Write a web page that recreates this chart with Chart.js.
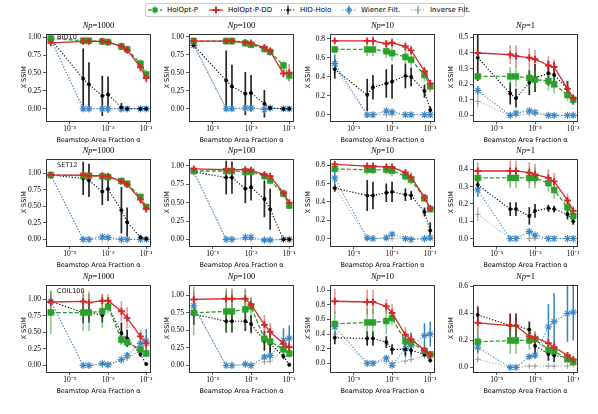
<!DOCTYPE html>
<html>
<head>
<meta charset="utf-8">
<script src="https://cdn.jsdelivr.net/npm/chart.js@4.4.1/dist/chart.umd.min.js"></script>
<style>
  body { margin: 0; background: #fff; }
  #fig { position: relative; width: 598px; height: 414px; overflow: hidden; }
  #fig canvas { position: absolute; }
  .ttl { position: absolute; font: 8.5px "Liberation Serif", serif; transform: translateX(-50%); white-space: nowrap; color: #000; }
  .ann { position: absolute; font: 6.5px "DejaVu Sans", sans-serif; color: #111; }
  #legend { position: absolute; left: 145px; top: 3px; width: 320px; height: 14px; border: 1px solid #ccc; border-radius: 2px; box-sizing: border-box; }
  .lg { position: absolute; top: 1px; font: 7px "DejaVu Sans", sans-serif; line-height: 11px; white-space: nowrap; }
  .lg svg { position: absolute; top: 0; }
</style>
</head>
<body>
<div id="fig"><div id="legend"></div></div>
<script>
// beamstop area fraction (x) and axis labels
const alpha = [1e-6, 5e-5, 1e-4, 5e-4, 1e-3, 5e-3, 1e-2, 5e-2, 1e-1];
const xTickValues = [1e-5, 1e-3, 1e-1];
const xTickLabels = ["10⁻⁵", "10⁻³", "10⁻¹"];
const seriesNames = ["HolOpt-P", "HolOpt-P-DD", "HIO-Holo", "Wiener Filt.", "Inverse Filt."];
const datasetNames = ["BIO10", "SET12", "COIL100"];
const photonCounts = ["1000", "100", "10", "1"];

// rows of each array: HolOpt-P, HolOpt-P-DD, HIO-Holo, Wiener, Inverse
const bio_1000_mean = [
  [0.98, 0.95, 0.95, 0.94, 0.93, 0.87, 0.83, 0.63, 0.48],
  [0.92, 0.94, 0.94, 0.94, 0.93, 0.87, 0.82, 0.58, 0.43],
  [0.97, 0.42, 0.34, 0.18, 0.20, 0.02, 0.00, 0.00, 0.00],
  [0.97, 0.00, 0.00, 0.00, 0.00, 0.00, 0.00, 0.00, 0.00],
  [0.97, 0.00, 0.00, 0.00, 0.00, 0.00, 0.00, 0.00, 0.00]];
const bio_1000_err = [
  [0.02, 0.03, 0.03, 0.03, 0.04, 0.04, 0.05, 0.06, 0.06],
  [0.04, 0.04, 0.04, 0.04, 0.04, 0.05, 0.05, 0.07, 0.07],
  [0.01, 0.42, 0.31, 0.28, 0.25, 0.06, 0.02, 0.01, 0.01],
  [0.01, 0.01, 0.01, 0.01, 0.01, 0.01, 0.01, 0.01, 0.01],
  [0.01, 0.01, 0.01, 0.01, 0.01, 0.01, 0.01, 0.01, 0.01]];
const bio_100_mean = [
  [0.94, 0.94, 0.94, 0.91, 0.89, 0.83, 0.79, 0.60, 0.46],
  [0.94, 0.94, 0.94, 0.92, 0.91, 0.85, 0.80, 0.49, 0.50],
  [0.88, 0.39, 0.31, 0.21, 0.22, 0.07, 0.01, 0.00, 0.00],
  [0.88, 0.00, 0.00, 0.01, 0.01, -0.01, 0.01, 0.00, 0.00],
  [0.90, 0.00, 0.00, 0.00, 0.00, 0.00, 0.00, 0.00, 0.00]];
const bio_100_err = [
  [0.03, 0.03, 0.03, 0.04, 0.05, 0.05, 0.05, 0.06, 0.07],
  [0.03, 0.03, 0.03, 0.04, 0.05, 0.05, 0.06, 0.06, 0.12],
  [0.02, 0.42, 0.30, 0.30, 0.25, 0.19, 0.02, 0.01, 0.01],
  [0.02, 0.01, 0.01, 0.01, 0.01, 0.01, 0.01, 0.01, 0.01],
  [0.02, 0.01, 0.01, 0.01, 0.01, 0.01, 0.01, 0.01, 0.01]];
const bio_10_mean = [
  [0.69, 0.69, 0.69, 0.67, 0.65, 0.61, 0.58, 0.42, 0.30],
  [0.78, 0.78, 0.78, 0.75, 0.76, 0.72, 0.68, 0.46, 0.33],
  [0.48, 0.21, 0.29, 0.33, 0.35, 0.41, 0.40, 0.25, 0.05],
  [0.54, 0.00, 0.00, 0.04, 0.03, 0.00, 0.00, 0.00, 0.00],
  [0.49, 0.00, 0.00, 0.00, 0.00, 0.00, 0.00, 0.00, 0.00]];
const bio_10_err = [
  [0.04, 0.07, 0.07, 0.07, 0.08, 0.07, 0.07, 0.07, 0.06],
  [0.02, 0.03, 0.05, 0.04, 0.05, 0.05, 0.05, 0.05, 0.04],
  [0.10, 0.17, 0.13, 0.15, 0.18, 0.13, 0.10, 0.07, 0.04],
  [0.10, 0.01, 0.01, 0.02, 0.02, 0.01, 0.01, 0.01, 0.01],
  [0.05, 0.01, 0.01, 0.01, 0.01, 0.01, 0.01, 0.01, 0.01]];
const bio_1_mean = [
  [0.25, 0.25, 0.25, 0.24, 0.23, 0.22, 0.20, 0.13, 0.10],
  [0.40, 0.39, 0.38, 0.37, 0.36, 0.32, 0.31, 0.17, 0.11],
  [0.37, 0.14, 0.11, 0.21, 0.24, 0.27, 0.26, 0.17, 0.10],
  [0.16, 0.00, 0.015, 0.03, 0.02, 0.00, 0.00, 0.00, 0.00],
  [0.09, 0.00, 0.00, 0.01, 0.01, 0.00, 0.00, 0.00, 0.00]];
const bio_1_err = [
  [0.02, 0.06, 0.07, 0.07, 0.06, 0.06, 0.06, 0.04, 0.03],
  [0.01, 0.06, 0.07, 0.06, 0.06, 0.06, 0.05, 0.05, 0.03],
  [0.15, 0.07, 0.06, 0.08, 0.09, 0.08, 0.08, 0.05, 0.03],
  [0.03, 0.01, 0.01, 0.01, 0.01, 0.01, 0.01, 0.01, 0.01],
  [0.04, 0.01, 0.01, 0.01, 0.01, 0.01, 0.01, 0.01, 0.01]];

const set_1000_mean = [
  [0.97, 0.96, 0.96, 0.95, 0.94, 0.88, 0.84, 0.64, 0.49],
  [0.97, 0.97, 0.96, 0.96, 0.95, 0.88, 0.83, 0.60, 0.46],
  [0.97, 0.92, 0.89, 0.72, 0.76, 0.44, 0.26, 0.03, 0.01],
  [0.97, 0.00, 0.00, 0.04, 0.03, 0.00, 0.00, 0.00, 0.00],
  [0.97, 0.00, 0.00, 0.00, 0.00, 0.00, 0.00, 0.00, 0.00]];
const set_1000_err = [
  [0.02, 0.02, 0.03, 0.03, 0.04, 0.04, 0.04, 0.05, 0.05],
  [0.04, 0.04, 0.04, 0.04, 0.05, 0.05, 0.05, 0.06, 0.06],
  [0.01, 0.25, 0.25, 0.20, 0.18, 0.35, 0.22, 0.04, 0.02],
  [0.01, 0.01, 0.01, 0.02, 0.02, 0.01, 0.01, 0.01, 0.01],
  [0.01, 0.01, 0.01, 0.01, 0.01, 0.01, 0.01, 0.01, 0.01]];
const set_100_mean = [
  [0.93, 0.93, 0.93, 0.92, 0.92, 0.86, 0.80, 0.62, 0.46],
  [0.96, 0.95, 0.95, 0.95, 0.94, 0.88, 0.86, 0.63, 0.50],
  [0.92, 0.84, 0.84, 0.69, 0.71, 0.55, 0.41, 0.00, 0.00],
  [0.93, 0.00, 0.00, 0.03, 0.03, -0.01, -0.01, 0.00, 0.00],
  [0.90, 0.00, 0.00, 0.00, 0.00, 0.00, 0.00, 0.00, 0.00]];
const set_100_err = [
  [0.03, 0.03, 0.03, 0.04, 0.04, 0.05, 0.05, 0.05, 0.05],
  [0.04, 0.04, 0.04, 0.04, 0.04, 0.04, 0.04, 0.04, 0.04],
  [0.02, 0.23, 0.22, 0.20, 0.18, 0.25, 0.28, 0.01, 0.01],
  [0.03, 0.01, 0.01, 0.02, 0.02, 0.01, 0.01, 0.01, 0.01],
  [0.02, 0.01, 0.01, 0.01, 0.01, 0.01, 0.01, 0.01, 0.01]];
const set_10_mean = [
  [0.76, 0.75, 0.75, 0.75, 0.74, 0.68, 0.64, 0.44, 0.32],
  [0.81, 0.79, 0.79, 0.78, 0.78, 0.72, 0.67, 0.45, 0.33],
  [0.55, 0.47, 0.47, 0.50, 0.51, 0.48, 0.47, 0.29, 0.09],
  [0.66, 0.01, 0.00, 0.01, 0.05, 0.00, -0.01, 0.00, 0.01],
  [0.56, 0.00, 0.00, 0.00, 0.00, 0.00, 0.00, 0.00, 0.00]];
const set_10_err = [
  [0.03, 0.05, 0.05, 0.05, 0.06, 0.05, 0.05, 0.04, 0.03],
  [0.03, 0.04, 0.04, 0.04, 0.04, 0.04, 0.05, 0.04, 0.03],
  [0.04, 0.17, 0.15, 0.10, 0.11, 0.07, 0.05, 0.05, 0.09],
  [0.09, 0.01, 0.01, 0.02, 0.02, 0.01, 0.01, 0.01, 0.01],
  [0.03, 0.01, 0.01, 0.01, 0.01, 0.01, 0.01, 0.01, 0.01]];
const set_1_mean = [
  [0.35, 0.35, 0.35, 0.35, 0.35, 0.32, 0.28, 0.18, 0.13],
  [0.39, 0.39, 0.39, 0.38, 0.37, 0.35, 0.33, 0.22, 0.16],
  [0.31, 0.17, 0.17, 0.13, 0.16, 0.175, 0.17, 0.14, 0.10],
  [0.28, 0.00, 0.00, 0.04, 0.02, 0.00, 0.00, 0.00, 0.00],
  [0.14, 0.00, 0.00, 0.00, 0.00, 0.00, 0.00, 0.00, 0.00]];
const set_1_err = [
  [0.02, 0.06, 0.06, 0.06, 0.06, 0.05, 0.05, 0.04, 0.03],
  [0.05, 0.06, 0.06, 0.06, 0.06, 0.05, 0.05, 0.04, 0.03],
  [0.03, 0.04, 0.04, 0.05, 0.04, 0.02, 0.02, 0.03, 0.02],
  [0.04, 0.01, 0.01, 0.02, 0.01, 0.01, 0.01, 0.01, 0.01],
  [0.04, 0.01, 0.01, 0.02, 0.01, 0.01, 0.01, 0.01, 0.01]];

const coil_1000_mean = [
  [0.80, 0.80, 0.80, 0.82, 0.89, 0.39, 0.35, 0.24, 0.18],
  [0.96, 0.97, 0.95, 0.98, 0.98, 0.82, 0.72, 0.44, 0.33],
  [0.97, 0.80, 0.80, 0.76, 0.90, 0.49, 0.41, 0.17, 0.02],
  [0.97, 0.00, 0.00, 0.03, 0.01, 0.09, 0.15, 0.33, 0.37],
  [0.97, 0.00, 0.00, 0.01, 0.01, 0.07, 0.11, 0.22, 0.30]];
const coil_1000_err = [
  [0.33, 0.28, 0.28, 0.25, 0.10, 0.08, 0.07, 0.05, 0.05],
  [0.17, 0.15, 0.17, 0.10, 0.10, 0.15, 0.16, 0.10, 0.12],
  [0.01, 0.16, 0.15, 0.11, 0.06, 0.16, 0.13, 0.04, 0.02],
  [0.01, 0.01, 0.01, 0.02, 0.02, 0.03, 0.05, 0.17, 0.18],
  [0.01, 0.01, 0.01, 0.01, 0.01, 0.03, 0.04, 0.08, 0.10]];
const coil_100_mean = [
  [0.75, 0.77, 0.77, 0.80, 0.84, 0.38, 0.34, 0.23, 0.17],
  [0.94, 0.95, 0.95, 0.95, 0.87, 0.58, 0.48, 0.31, 0.26],
  [0.73, 0.63, 0.63, 0.63, 0.59, 0.35, 0.31, 0.13, 0.01],
  [0.85, 0.00, 0.00, 0.02, 0.00, 0.12, 0.14, 0.36, 0.39],
  [0.83, 0.00, 0.00, 0.01, 0.01, 0.05, 0.06, 0.22, 0.27]];
const coil_100_err = [
  [0.32, 0.30, 0.30, 0.27, 0.14, 0.08, 0.07, 0.07, 0.06],
  [0.18, 0.15, 0.15, 0.15, 0.09, 0.14, 0.13, 0.08, 0.07],
  [0.15, 0.16, 0.16, 0.14, 0.13, 0.14, 0.13, 0.04, 0.02],
  [0.06, 0.01, 0.01, 0.02, 0.01, 0.04, 0.06, 0.17, 0.18],
  [0.03, 0.01, 0.01, 0.01, 0.01, 0.02, 0.02, 0.06, 0.08]];
const coil_10_mean = [
  [0.54, 0.56, 0.56, 0.58, 0.62, 0.30, 0.28, 0.17, 0.12],
  [0.85, 0.84, 0.84, 0.78, 0.69, 0.39, 0.33, 0.18, 0.12],
  [0.35, 0.34, 0.34, 0.29, 0.19, 0.19, 0.18, 0.12, 0.04],
  [0.50, 0.00, 0.00, 0.07, -0.03, 0.20, 0.25, 0.38, 0.40],
  [0.40, 0.00, 0.00, 0.03, 0.00, 0.03, 0.05, 0.10, 0.12]];
const coil_10_err = [
  [0.17, 0.19, 0.19, 0.18, 0.10, 0.06, 0.06, 0.04, 0.04],
  [0.17, 0.17, 0.17, 0.10, 0.12, 0.11, 0.09, 0.04, 0.04],
  [0.09, 0.10, 0.10, 0.08, 0.07, 0.08, 0.06, 0.03, 0.03],
  [0.03, 0.01, 0.01, 0.03, 0.02, 0.12, 0.17, 0.17, 0.17],
  [0.03, 0.01, 0.01, 0.02, 0.01, 0.02, 0.02, 0.03, 0.03]];
const coil_1_mean = [
  [0.19, 0.20, 0.20, 0.20, 0.21, 0.13, 0.12, 0.06, 0.04],
  [0.33, 0.31, 0.31, 0.23, 0.22, 0.18, 0.15, 0.09, 0.06],
  [0.39, 0.31, 0.31, 0.28, 0.16, 0.10, 0.09, 0.07, 0.05],
  [0.15, 0.00, 0.00, 0.08, 0.09, 0.30, 0.34, 0.40, 0.41],
  [0.06, 0.00, 0.00, 0.01, 0.01, 0.01, 0.01, 0.01, 0.02]];
const coil_1_err = [
  [0.10, 0.10, 0.10, 0.07, 0.05, 0.04, 0.04, 0.02, 0.02],
  [0.13, 0.09, 0.09, 0.05, 0.05, 0.04, 0.04, 0.02, 0.02],
  [0.06, 0.09, 0.09, 0.06, 0.06, 0.05, 0.05, 0.02, 0.02],
  [0.04, 0.01, 0.01, 0.02, 0.02, 0.17, 0.21, 0.21, 0.21],
  [0.02, 0.01, 0.01, 0.01, 0.01, 0.01, 0.01, 0.01, 0.01]];

const panelMeans = [
  [bio_1000_mean, bio_100_mean, bio_10_mean, bio_1_mean],
  [set_1000_mean, set_100_mean, set_10_mean, set_1_mean],
  [coil_1000_mean, coil_100_mean, coil_10_mean, coil_1_mean]];
const panelErrs = [
  [bio_1000_err, bio_100_err, bio_10_err, bio_1_err],
  [set_1000_err, set_100_err, set_10_err, set_1_err],
  [coil_1000_err, coil_100_err, coil_10_err, coil_1_err]];

// y axis limits [min, max, step] per panel
const yLimits = [
  [[-0.17, 1.05, 0.25], [-0.17, 1.045, 0.25], [-0.066, 0.858, 0.2], [-0.036, 0.525, 0.1]],
  [[-0.10, 1.22, 0.25], [-0.09, 1.10, 0.25], [-0.08, 0.873, 0.2], [-0.043, 0.462, 0.1]],
  [[-0.10, 1.225, 0.25], [-0.093, 1.153, 0.25], [-0.12, 1.08, 0.2], [-0.034, 0.615, 0.2]]];

// layout of the grid
const colLeft = [46, 189, 330, 473];
const rowTop = [33, 158, 284];
const plotW = 105, plotH = 88;
const yAxisW = 26, xAxisH = 23, padTop = 6, padRight = 12;

const seriesStyle = [
  { color: "#2ca02c", dash: [4, 2], width: 1.3, point: "rect", radius: 4.2, pw: 0.5, err: "rgba(44,160,44,0.55)", errW: 1.6, order: 2 },
  { color: "#d62728", dash: [], width: 1.3, point: "cross", radius: 3.4, pw: 1.9, err: "rgba(214,39,40,0.5)", errW: 1.6, order: 1 },
  { color: "#000000", dash: [1.2, 1.8], width: 1.1, point: "circle", radius: 1.7, pw: 0.5, err: "rgba(0,0,0,0.85)", errW: 1.7, order: 3 },
  { color: "#3b87c8", dash: [1.2, 1.8], width: 1.1, point: "star", radius: 3.6, pw: 1.1, err: "rgba(31,119,180,0.9)", errW: 1.5, order: 4 },
  { color: "#9a9a9a", dash: [1.2, 1.8], width: 0.9, point: "cross", radius: 3, pw: 0.8, err: "rgba(150,150,150,0.8)", errW: 1.2, order: 5 }];

const errorBars = {
  id: "errorBars",
  beforeDatasetsDraw(chart) {
    const { ctx, chartArea, scales: { x, y } } = chart;
    ctx.save();
    ctx.beginPath();
    ctx.rect(chartArea.left, chartArea.top, chartArea.width, chartArea.height);
    ctx.clip();
    chart.data.datasets.slice().reverse().forEach((ds) => {
      ctx.strokeStyle = ds.errColor;
      ctx.lineWidth = ds.errWidth;
      ds.data.forEach((p, i) => {
        const e = ds.errs[i];
        const px = x.getPixelForValue(p.x);
        ctx.beginPath();
        ctx.moveTo(px, y.getPixelForValue(p.y - e));
        ctx.lineTo(px, y.getPixelForValue(p.y + e));
        ctx.stroke();
      });
    });
    ctx.restore();
  }
};

const frameBox = {
  id: "frameBox",
  afterDraw(chart) {
    const { ctx, chartArea: a } = chart;
    ctx.save();
    ctx.strokeStyle = "#333";
    ctx.lineWidth = 1;
    ctx.strokeRect(Math.round(a.left) + 0.5, Math.round(a.top) + 0.5, Math.round(a.width) - 1, Math.round(a.height) - 1);
    ctx.restore();
  }
};

const fig = document.getElementById("fig");
const tickFont = { family: "'Liberation Serif', serif", size: 7.5 };
const labelFont = { family: "'DejaVu Sans', sans-serif", size: 6.5 };

for (let r = 0; r < 3; r++) {
  for (let c = 0; c < 4; c++) {
    const L = colLeft[c], T = rowTop[r];
    const [ymin, ymax, step] = yLimits[r][c];
    const canvas = document.createElement("canvas");
    canvas.width = yAxisW + plotW + padRight;
    canvas.height = padTop + plotH + xAxisH;
    canvas.style.left = (L - yAxisW) + "px";
    canvas.style.top = (T - padTop) + "px";
    fig.appendChild(canvas);

    const title = document.createElement("div");
    title.className = "ttl";
    title.style.left = (L + plotW / 2) + "px";
    title.style.top = (T - 13) + "px";
    title.innerHTML = "<i>Np</i>=" + photonCounts[c];
    fig.appendChild(title);

    const datasets = seriesNames.map((name, s) => {
      const st = seriesStyle[s];
      return {
        label: name,
        data: alpha.map((a, i) => ({ x: a, y: panelMeans[r][c][s][i] })),
        errs: panelErrs[r][c][s],
        errColor: st.err,
        errWidth: st.errW,
        borderColor: st.color,
        backgroundColor: st.color,
        borderWidth: st.width,
        borderDash: st.dash,
        pointStyle: st.point,
        pointRadius: st.radius,
        pointBorderWidth: st.pw,
        pointBorderColor: st.color,
        pointBackgroundColor: st.color,
        tension: 0,
        order: st.order
      };
    });

    new Chart(canvas, {
      type: "line",
      data: { datasets },
      options: {
        responsive: false,
        animation: false,
        events: [],
        layout: { padding: { top: padTop, right: padRight, left: 0, bottom: 0 } },
        plugins: { legend: { display: false }, tooltip: { enabled: false } },
        scales: {
          x: {
            type: "logarithmic",
            min: Math.pow(10, -6.25),
            max: Math.pow(10, -0.75),
            afterBuildTicks: (s) => { s.ticks = xTickValues.map((v) => ({ value: v })); },
            afterFit: (s) => { s.height = xAxisH; },
            ticks: { font: tickFont, color: "#000", padding: 1, maxRotation: 0, autoSkip: false,
              callback: (v, i) => xTickLabels[i] },
            grid: { display: true, drawOnChartArea: false, drawTicks: true, tickLength: 3, color: "#333", lineWidth: 0.8 },
            border: { display: false },
            title: { display: true, text: "Beamstop Area Fraction α", font: labelFont, color: "#000", padding: 0 }
          },
          y: {
            type: "linear",
            min: ymin,
            max: ymax,
            afterBuildTicks: (s) => {
              const t = [];
              for (let k = Math.ceil(ymin / step - 1e-9); k * step <= ymax + 1e-9; k++) t.push({ value: Math.round(k * step * 1000) / 1000 });
              s.ticks = t;
            },
            afterFit: (s) => { s.width = yAxisW; },
            ticks: { font: tickFont, color: "#000", padding: 2,
              callback: (v) => Number(v).toFixed(step === 0.25 ? 2 : 1) },
            grid: { display: true, drawOnChartArea: false, drawTicks: true, tickLength: 3, color: "#333", lineWidth: 0.8 },
            border: { display: false },
            title: { display: true, text: "X SSIM", font: labelFont, color: "#000", padding: 0 }
          }
        }
      },
      plugins: [errorBars, frameBox]
    });
  }
  const ann = document.createElement("div");
  ann.className = "ann";
  ann.style.left = "57px";
  ann.style.top = [33, 161, 287][r] + "px";
  ann.textContent = datasetNames[r];
  fig.appendChild(ann);
}

// legend
const legend = document.getElementById("legend");
const legendX = [2, 63, 135, 196, 265];
function legendSample(st) {
  let m = "";
  if (st.point === "rect") m = '<rect x="4.5" y="2.5" width="5" height="5" fill="' + st.color + '"/>';
  else if (st.point === "circle") m = '<circle cx="7" cy="5" r="1.6" fill="' + st.color + '"/>';
  else if (st.point === "cross") m = '<path d="M4 5H10M7 2V8" stroke="' + st.color + '" stroke-width="' + st.pw + '"/>';
  else m = '<path d="M4 5H10M7 2V8M4.9 2.9L9.1 7.1M9.1 2.9L4.9 7.1" stroke="' + st.color + '" stroke-width="' + st.pw + '"/>';
  return '<svg width="14" height="10" viewBox="0 0 14 10">' +
    '<line x1="7" y1="0.5" x2="7" y2="9.5" stroke="' + st.err + '" stroke-width="1.3"/>' +
    '<line x1="0" y1="5" x2="14" y2="5" stroke="' + st.color + '" stroke-width="' + st.width + '" stroke-dasharray="' + (st.dash.length ? st.dash.join(",") : "none") + '"/>' +
    m + '</svg>';
}
seriesNames.forEach((name, s) => {
  const item = document.createElement("div");
  item.className = "lg";
  item.style.left = legendX[s] + "px";
  item.innerHTML = legendSample(seriesStyle[s]) + '<span style="margin-left:19px">' + name + '</span>';
  legend.appendChild(item);
});
</script>
</body>
</html>
